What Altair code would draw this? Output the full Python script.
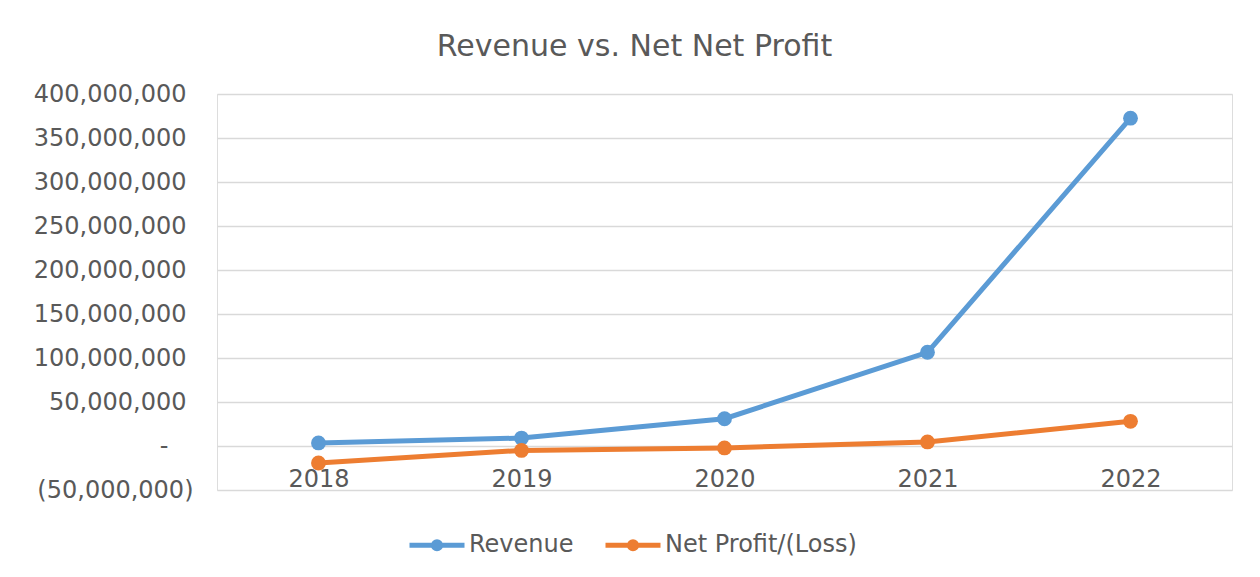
import altair as alt
import pandas as pd

years = ["2018", "2019", "2020", "2021", "2022"]
revenue = [3_500_000, 9_000_000, 31_000_000, 106_500_000, 372_500_000]
net_profit = [-19_300_000, -5_000_000, -2_200_000, 4_600_000, 28_000_000]
series = ["Revenue", "Net Profit/(Loss)"]
colors = ["#5B9BD5", "#ED7D31"]
y_ticks = list(range(-50_000_000, 400_000_001, 50_000_000))

rows = []
for s, vals in zip(series, [revenue, net_profit]):
    for yr, v in zip(years, vals):
        rows.append({"Year": yr, "Series": s, "Value": v})
df = pd.DataFrame(rows)

FONT = "DejaVu Sans"
TXT = "#595959"

label_expr = (
    "datum.value == 0 ? '-' : "
    "datum.value < 0 ? '(' + format(-datum.value, ',') + ')' : "
    "format(datum.value, ',')"
)

LEGEND_PATH = "M-1,0H1M0.13,0A0.13,0.13,0,1,1,-0.13,0A0.13,0.13,0,1,1,0.13,0Z"

color = alt.Color(
    "Series:N",
    scale=alt.Scale(domain=series, range=colors),
    sort=series,
    legend=alt.Legend(
        title=None,
        orient="none",
        legendX=190,
        legendY=421,
        direction="horizontal",
        symbolType=LEGEND_PATH,
        symbolSize=3025,
        symbolStrokeWidth=5,
        labelFont=FONT,
        labelFontSize=24,
        labelColor=TXT,
        labelOffset=2,
        labelLimit=400,
        columnPadding=21,
    ),
)

base = alt.Chart(df).encode(
    x=alt.X(
        "Year:O",
        sort=years,
        scale=alt.Scale(type="point", padding=0.5),
        axis=alt.Axis(
            title=None,
            orient="bottom",
            offset=-44,
            domain=False,
            ticks=False,
            labelPadding=21,
            labelFont=FONT,
            labelFontSize=24,
            labelColor=TXT,
            labelAngle=0,
            grid=False,
        ),
    ),
    y=alt.Y(
        "Value:Q",
        scale=alt.Scale(domain=[-50_000_000, 400_000_000], nice=False, zero=False),
        axis=alt.Axis(
            title=None,
            values=y_ticks,
            labelExpr=label_expr,
            ticks=False,
            tickSize=0,
            domain=False,
            labelPadding={
                "condition": [
                    {"test": "datum.value < 0", "value": 24},
                    {"test": "datum.value == 0", "value": 49},
                ],
                "value": 31,
            },
            labelFont=FONT,
            labelFontSize=24,
            labelColor=TXT,
            grid=True,
            gridColor="#D9D9D9",
            gridWidth=1.5,
        ),
    ),
    color=color,
)

line = base.mark_line(strokeWidth=5)
points = base.mark_point(filled=True, size=220, opacity=1)

chart = (
    (line + points)
    .properties(
        width=1015,
        height=396,
        padding={"left": 209, "top": 86, "right": 20, "bottom": 75},
        autosize=alt.AutoSizeParams(type="none"),
        title=alt.TitleParams(
            "Revenue vs. Net Net Profit",
            font=FONT,
            fontSize=30,
            fontWeight="normal",
            color=TXT,
            anchor="middle",
            dx=-90,
            offset=20,
        ),
    )
    .configure_view(stroke="transparent", strokeWidth=0)
    .configure(background="white")
)

chart.save("out.html", embed_options={"renderer": "svg", "actions": False})
